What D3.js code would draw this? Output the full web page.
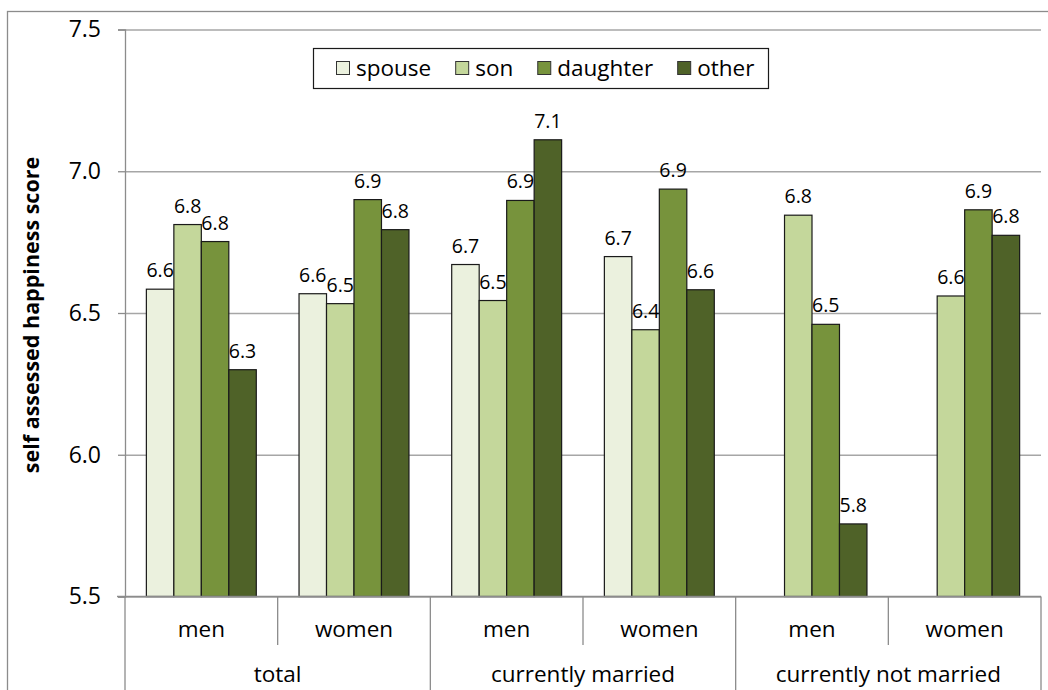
<!DOCTYPE html>
<html>
<head>
<meta charset="utf-8">
<script src="https://cdn.jsdelivr.net/npm/d3@7"></script>
<style>
  html, body { margin: 0; padding: 0; background: #fff; }
  svg { display: block; font-family: "Open Sans", Lato, sans-serif; }
</style>
</head>
<body>
<svg id="chart" width="1048" height="690"></svg>
<script>
// Relationship of the person named, per series
const seriesNames = ["spouse", "son", "daughter", "other"];
const seriesColors = ["#EBF1DE", "#C4D79B", "#77933C", "#4F6228"];

// Outer grouping and inner sub-categories
const groupNames = ["total", "currently married", "currently not married"];
const sexNames = ["men", "women"];

// Mean self-assessed happiness score, one value per (group, sex) cell
const spouse   = [6.584, 6.568, 6.671, 6.699, null,  null ];
const son      = [6.812, 6.533, 6.544, 6.441, 6.845, 6.560];
const daughter = [6.752, 6.900, 6.897, 6.937, 6.460, 6.864];
const other    = [6.300, 6.794, 7.111, 6.582, 5.756, 6.774];

const yTicks = [5.5, 6.0, 6.5, 7.0, 7.5];
const yTitle = "self assessed happiness score";

const FONT = "'Open Sans', Lato, sans-serif";
const seriesValues = [spouse, son, daughter, other];
const cells = [];
groupNames.forEach((g, gi) => sexNames.forEach((s, si) => cells.push({ key: gi * 2 + si, group: g, sex: s })));

const svg = d3.select("#chart");
const plot = { left: 125, right: 1041, top: 29.5, bottom: 596.5 };

// frame around the whole chart
svg.append("rect")
  .attr("x", 7.5).attr("y", 11.5).attr("width", 1100).attr("height", 700)
  .attr("fill", "none").attr("stroke", "#8c8c8c").attr("stroke-width", 1.3);

const y = d3.scaleLinear().domain([5.5, 7.5]).range([plot.bottom, plot.top]);
const x0 = d3.scaleBand().domain(cells.map(d => d.key)).range([plot.left, plot.right]).padding(0);
const bw = x0.bandwidth();
const x1 = d3.scaleBand().domain(seriesNames).range([bw * 0.14, bw * 0.86]).padding(0);

// gridlines
const grid = svg.append("g").attr("transform", `translate(${plot.left},0)`)
  .call(d3.axisLeft(y).tickValues(yTicks).tickSize(-(plot.right - plot.left)).tickFormat(""));
grid.select(".domain").remove();
grid.selectAll("line").attr("stroke", "#a6a6a6").attr("stroke-width", 1.6);

// y axis
const yAxis = svg.append("g").attr("transform", `translate(${plot.left},0)`)
  .call(d3.axisLeft(y).tickValues(yTicks).tickFormat(d3.format(".1f")).tickSize(7).tickPadding(17));
yAxis.select(".domain").attr("stroke", "#8c8c8c").attr("stroke-width", 1.3);
yAxis.selectAll(".tick line").attr("stroke", "#8c8c8c").attr("stroke-width", 1.3);
yAxis.selectAll(".tick text").attr("font-size", 23).attr("fill", "#000")
  .style("font-family", FONT);

// y axis title
svg.append("text")
  .attr("transform", `translate(39,315) rotate(-90)`)
  .attr("text-anchor", "middle")
  .attr("font-size", 21.5).attr("font-weight", "bold").attr("fill", "#000")
  .text(yTitle);

// bars and value labels
const fmt = d3.format(".1f");
const barData = [];
cells.forEach(c => seriesNames.forEach((s, si) => {
  const v = seriesValues[si][c.key];
  if (v != null) barData.push({ cell: c.key, series: s, si, value: v });
}));

const bars = svg.append("g");
bars.selectAll("rect").data(barData).join("rect")
  .attr("x", d => x0(d.cell) + x1(d.series))
  .attr("y", d => y(d.value))
  .attr("width", x1.bandwidth())
  .attr("height", d => y(5.5) - y(d.value))
  .attr("fill", d => seriesColors[d.si])
  .attr("stroke", "#1a1a1a").attr("stroke-width", 1.2);

bars.selectAll("text").data(barData).join("text")
  .attr("x", d => x0(d.cell) + x1(d.series) + x1.bandwidth() / 2)
  .attr("y", d => y(d.value) - 12)
  .attr("text-anchor", "middle")
  .attr("font-size", 19.5).attr("fill", "#000")
  .text(d => fmt(d.value));

// category axis: baseline and separators
const axisG = svg.append("g").attr("stroke", "#8c8c8c").attr("stroke-width", 1.3);
axisG.append("line").attr("x1", 117).attr("x2", plot.right).attr("y1", plot.bottom).attr("y2", plot.bottom);
const edges = d3.range(cells.length + 1).map(i => ({ x: plot.left + i * bw, major: i % 2 === 0 }));
axisG.selectAll("line.sep").data(edges).join("line").attr("class", "sep")
  .attr("x1", d => d.x).attr("x2", d => d.x)
  .attr("y1", plot.bottom).attr("y2", d => d.major ? 700 : 645);

svg.append("g").selectAll("text").data(cells).join("text")
  .attr("x", d => x0(d.key) + bw / 2).attr("y", 637)
  .attr("text-anchor", "middle").attr("font-size", 22.5).attr("fill", "#000")
  .text(d => d.sex);

svg.append("g").selectAll("text").data(groupNames).join("text")
  .attr("x", (d, i) => plot.left + (i * 2 + 1) * bw).attr("y", 682)
  .attr("text-anchor", "middle").attr("font-size", 22.5).attr("fill", "#000")
  .text(d => d);

// legend
const legend = svg.append("g");
legend.append("rect").attr("x", 313.5).attr("y", 48.5).attr("width", 455).attr("height", 40)
  .attr("fill", "#fff").attr("stroke", "#1a1a1a").attr("stroke-width", 1.2);
let lx = 336;
seriesNames.forEach((s, i) => {
  legend.append("rect").attr("x", lx + 0.5).attr("y", 61.5).attr("width", 13).attr("height", 13)
    .attr("fill", seriesColors[i]).attr("stroke", "#333").attr("stroke-width", 1);
  const t = legend.append("text").attr("x", lx + 20).attr("y", 76)
    .attr("font-size", 22.5).attr("fill", "#000").text(s);
  lx += 20 + t.node().getComputedTextLength() + 24;
});
</script>
</body>
</html>
